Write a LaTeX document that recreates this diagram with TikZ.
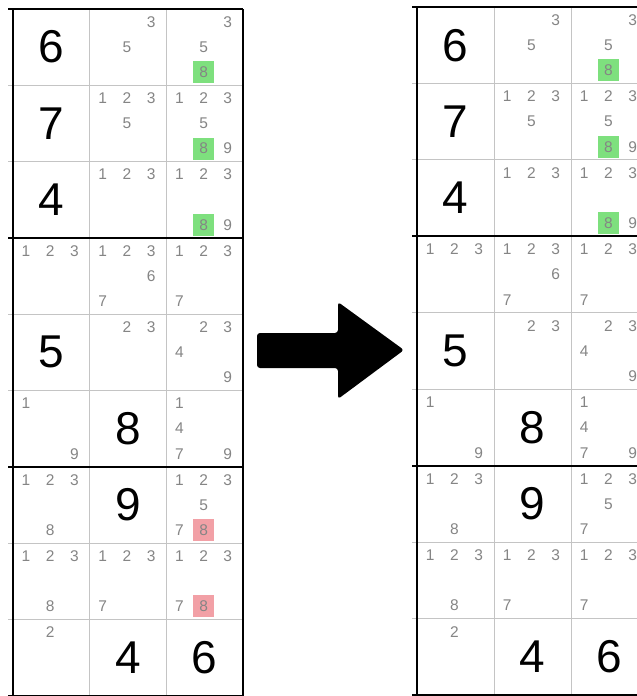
\documentclass[tikz,border=0pt]{standalone}
\usepackage{fontspec}
\setmainfont{Liberation Sans}
\definecolor{thin}{HTML}{C4C4C4}
\definecolor{candgray}{HTML}{858585}
\definecolor{hlgreen}{HTML}{7EE07E}
\definecolor{hlred}{HTML}{F2A0A6}
\tikzset{
  cand/.style={font=\fontsize{15.5}{15.5}\selectfont, text=candgray, inner sep=0pt},
  hlg/.style={cand, fill=hlgreen, minimum width=21pt, minimum height=22pt},
  hlr/.style={cand, fill=hlred, minimum width=21pt, minimum height=22pt},
  bigd/.style={font=\fontsize{46}{46}\selectfont, inner sep=0pt},
  thinline/.style={draw=thin, line width=1pt},
  thickline/.style={draw=black, line width=2.2pt},
}
% #1 prefix, #2 col, #3 row, #4 digits
\newcommand\cands[4]{%
  \foreach \d in {#4}{%
    \pgfmathtruncatemacro\ci{mod(\d-1,3)}%
    \pgfmathtruncatemacro\ri{div(\d-1,3)}%
    \pgfmathsetmacro\px{#2-1+0.17+0.315*\ci}%
    \pgfmathsetmacro\py{#3-1+0.17+0.33*\ri}%
    \node[cand] (#1-#3-#2-\d) at (\px,\py) {\d};
  }}
% #1 prefix, #2 col, #3 row, #4 digit, #5 style
\newcommand\hcand[5]{%
  \pgfmathtruncatemacro\ci{mod(#4-1,3)}%
  \pgfmathtruncatemacro\ri{div(#4-1,3)}%
  \pgfmathsetmacro\px{#2-1+0.17+0.315*\ci}%
  \pgfmathsetmacro\py{#3-1+0.17+0.33*\ri}%
  \node[#5] (#1-#3-#2-#4) at (\px,\py) {#4};}
% #1 prefix, #2 col, #3 row, #4 digit
\newcommand\given[4]{\node[bigd] (#1-#3-#2-big) at (#2-0.5,#3-0.5) {#4};}
\newcommand\gridlines{%
  \foreach \r in {1,2,4,5,7,8} \draw[thinline] ([xshift=-5pt]0,\r) -- (3,\r);
  \foreach \c in {1,2} \draw[thinline] (\c,0) -- (\c,9);
  \foreach \r in {0,3,6,9} \draw[thickline] ([xshift=-5pt]0,\r) -- (3,\r);
  \draw[thickline] (0,0) -- (0,9);
  \draw[thickline] (3,0) -- (3,9);}
% common content
\newcommand\common[1]{%
  \given{#1}{1}{1}{6}
  \cands{#1}{2}{1}{3,5}
  \cands{#1}{3}{1}{3,5}
  \hcand{#1}{3}{1}{8}{hlg}
  \given{#1}{1}{2}{7}
  \cands{#1}{2}{2}{1,2,3,5}
  \cands{#1}{3}{2}{1,2,3,5,9}
  \hcand{#1}{3}{2}{8}{hlg}
  \given{#1}{1}{3}{4}
  \cands{#1}{2}{3}{1,2,3}
  \cands{#1}{3}{3}{1,2,3,9}
  \hcand{#1}{3}{3}{8}{hlg}
  \cands{#1}{1}{4}{1,2,3}
  \cands{#1}{2}{4}{1,2,3,6,7}
  \cands{#1}{3}{4}{1,2,3,7}
  \given{#1}{1}{5}{5}
  \cands{#1}{2}{5}{2,3}
  \cands{#1}{3}{5}{2,3,4,9}
  \cands{#1}{1}{6}{1,9}
  \given{#1}{2}{6}{8}
  \cands{#1}{3}{6}{1,4,7,9}
  \cands{#1}{1}{7}{1,2,3,8}
  \given{#1}{2}{7}{9}
  \cands{#1}{3}{7}{1,2,3,5,7}
  \cands{#1}{1}{8}{1,2,3,8}
  \cands{#1}{2}{8}{1,2,3,7}
  \cands{#1}{3}{8}{1,2,3,7}
  \cands{#1}{1}{9}{2}
  \given{#1}{2}{9}{4}
  \given{#1}{3}{9}{6}}
\begin{document}
\begin{tikzpicture}[x=1pt,y=-1pt]
  \useasboundingbox (0,0) rectangle (637,696);
  \clip (0,0) rectangle (637,696);
  \fill[white] (0,0) rectangle (637,696);
  % left grid
  \begin{scope}[shift={(13pt,-9pt)}, x=76.7pt, y=-76.3pt]
    \gridlines
    \common{L}
    \hcand{L}{3}{7}{8}{hlr}
    \hcand{L}{3}{8}{8}{hlr}
  \end{scope}
  % right grid
  \begin{scope}[shift={(417pt,-7pt)}, x=77pt, y=-76.45pt]
    \gridlines
    \common{R}
  \end{scope}
  % arrow
  \fill[black, rounded corners=3pt] (257,333) -- (338,333) -- (338,302) -- (404,350)
    -- (338,399) -- (338,368) -- (257,368) -- cycle;
\end{tikzpicture}
\end{document}
